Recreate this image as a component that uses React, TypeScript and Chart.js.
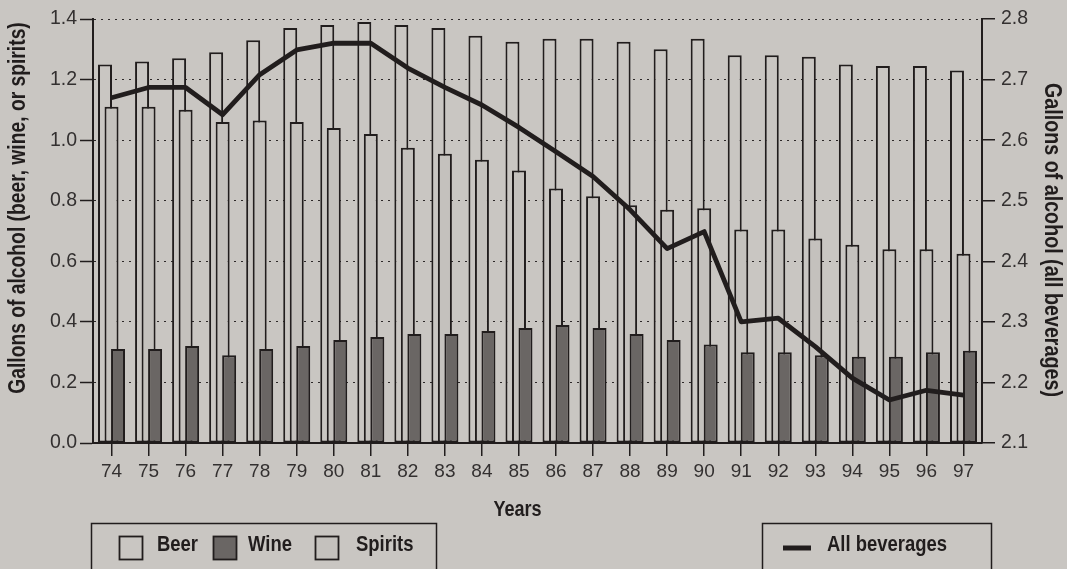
import React, { useEffect, useRef } from 'react';
import { Chart, registerables } from 'chart.js';

Chart.register(...registerables);

// ---- data ----
const years = ['74', '75', '76', '77', '78', '79', '80', '81', '82', '83', '84', '85', '86', '87', '88', '89', '90', '91', '92', '93', '94', '95', '96', '97'];
const beer = [1.25, 1.26, 1.27, 1.29, 1.33, 1.37, 1.38, 1.39, 1.38, 1.37, 1.345, 1.325, 1.335, 1.335, 1.325, 1.30, 1.335, 1.28, 1.28, 1.275, 1.25, 1.245, 1.245, 1.23];
const wine = [0.31, 0.31, 0.32, 0.29, 0.31, 0.32, 0.34, 0.35, 0.36, 0.36, 0.37, 0.38, 0.39, 0.38, 0.36, 0.34, 0.325, 0.30, 0.30, 0.29, 0.285, 0.285, 0.30, 0.305];
const spirits = [1.11, 1.11, 1.10, 1.06, 1.065, 1.06, 1.04, 1.02, 0.975, 0.955, 0.935, 0.90, 0.84, 0.815, 0.785, 0.77, 0.775, 0.705, 0.705, 0.675, 0.655, 0.64, 0.64, 0.625];
const allBeverages = [2.67, 2.687, 2.687, 2.642, 2.708, 2.749, 2.76, 2.76, 2.719, 2.687, 2.658, 2.621, 2.581, 2.54, 2.485, 2.421, 2.449, 2.30, 2.306, 2.259, 2.207, 2.171, 2.187, 2.179];
const leftTicks = { min: 0, max: 1.4, step: 0.2 };
const rightTicks = { min: 2.1, max: 2.8, step: 0.1 };

const leftTitle = 'Gallons of alcohol (beer, wine, or spirits)';
const rightTitle = 'Gallons of alcohol (all beverages)';
const xTitle = 'Years';

const BG = '#c9c6c2';
const INK = '#211d1d';
const TICK_INK = '#333030';
const WINE = '#6a6664';
const SPIRITS = '#c4c1bd';
const REG_FONT = '"Liberation Sans", Arial, "Helvetica Neue", sans-serif';

function hasFont(name: string): boolean {
  const c = document.createElement('canvas').getContext('2d');
  if (!c) return false;
  const s = 'Gallons of alcohol (beer, wine)';
  c.font = '20px monospace';
  const a = c.measureText(s).width;
  c.font = `20px "${name}", monospace`;
  const b = c.measureText(s).width;
  return Math.abs(a - b) > 0.5;
}

export default function App() {
  const ref = useRef<HTMLCanvasElement>(null);

  useEffect(() => {
    const canvas = ref.current;
    if (!canvas) return;
    const narrow = hasFont('Liberation Sans Narrow');

    const boldText = (ctx: CanvasRenderingContext2D, text: string, x: number, y: number, size: number, rot: number, align: CanvasTextAlign) => {
      ctx.save();
      ctx.translate(x, y);
      ctx.rotate(rot);
      if (narrow) {
        ctx.font = `bold ${size}px "Liberation Sans Narrow", sans-serif`;
      } else {
        ctx.font = `bold ${size}px ${REG_FONT}`;
        ctx.scale(0.82, 1);
      }
      ctx.textAlign = align;
      ctx.textBaseline = 'middle';
      ctx.fillStyle = INK;
      ctx.fillText(text, 0, 0);
      ctx.restore();
    };

    const bgPlugin = {
      id: 'bg',
      beforeDraw(chart: any) {
        const ctx = chart.ctx;
        ctx.save();
        ctx.fillStyle = BG;
        ctx.fillRect(0, 0, chart.width, chart.height);
        ctx.restore();
      },
    };

    // draw bars left-to-right (beer behind, wine in front), line on top
    const orderPlugin = {
      id: 'drawOrder',
      beforeDatasetsDraw(chart: any) {
        const metas = chart.getSortedVisibleDatasetMetas();
        const bars = metas.filter((m: any) => m.type === 'bar');
        const lines = metas.filter((m: any) => m.type !== 'bar');
        [...bars, ...lines].forEach((m: any) => m.controller.draw());
        return false;
      },
    };

    const decoPlugin = {
      id: 'deco',
      afterDraw(chart: any) {
        const ctx: CanvasRenderingContext2D = chart.ctx;
        const area = chart.chartArea;
        boldText(ctx, leftTitle, 19, 208, 23.5, -Math.PI / 2, 'center');
        boldText(ctx, rightTitle, 1052, 240, 24, Math.PI / 2, 'center');
        boldText(ctx, xTitle, (area.left + area.right) / 2 - 20, 510, 22, 0, 'center');

        // legend boxes
        ctx.save();
        ctx.strokeStyle = INK;
        ctx.lineWidth = 1.5;
        ctx.strokeRect(91.5, 523.5, 345, 60);
        ctx.strokeRect(762.5, 523.5, 229, 60);

        const swatch = (x: number, fill: string) => {
          ctx.fillStyle = fill;
          ctx.fillRect(x, 536, 24, 24);
          ctx.strokeStyle = INK;
          ctx.lineWidth = 1.8;
          ctx.strokeRect(x + 0.5, 536.5, 23, 23);
        };
        swatch(119, BG);
        swatch(213, WINE);
        swatch(315, SPIRITS);
        ctx.restore();
        boldText(ctx, 'Beer', 157, 545, 22.5, 0, 'left');
        boldText(ctx, 'Wine', 248, 545, 22.5, 0, 'left');
        boldText(ctx, 'Spirits', 356, 545, 22.5, 0, 'left');

        ctx.save();
        ctx.strokeStyle = INK;
        ctx.lineWidth = 5;
        ctx.beginPath();
        ctx.moveTo(783, 548);
        ctx.lineTo(811, 548);
        ctx.stroke();
        ctx.restore();
        boldText(ctx, 'All beverages', 827, 545, 22.5, 0, 'left');
      },
    };

    const barCommon = {
      type: 'bar' as const,
      yAxisID: 'y',
      borderColor: INK,
      borderWidth: 2,
      borderSkipped: false,
      barPercentage: 2.15,
      categoryPercentage: 0.527,
    };

    const chart = new Chart(canvas, {
      type: 'bar',
      data: {
        labels: years,
        datasets: [
          {
            type: 'line',
            label: 'All beverages',
            data: allBeverages,
            yAxisID: 'y2',
            borderColor: INK,
            borderWidth: 4.8,
            pointRadius: 0,
            tension: 0,
            borderJoinStyle: 'round',
            borderCapStyle: 'butt',
            order: 0,
          } as any,
          { ...barCommon, label: 'Beer', data: beer, backgroundColor: BG, order: 1 } as any,
          { ...barCommon, label: 'Spirits', data: spirits, backgroundColor: SPIRITS, order: 2 } as any,
          { ...barCommon, label: 'Wine', data: wine, backgroundColor: WINE, order: 3 } as any,
        ],
      },
      options: {
        responsive: false,
        animation: false,
        devicePixelRatio: 1,
        layout: { padding: { top: 19, left: 0, right: 0, bottom: 0 } },
        plugins: { legend: { display: false }, tooltip: { enabled: false }, title: { display: false } },
        scales: {
          x: {
            type: 'category',
            offset: true,
            grid: { display: true, drawOnChartArea: false, drawTicks: true, tickLength: 13, color: INK, lineWidth: 1.5, offset: false },
            border: { display: true, color: INK, width: 2 },
            ticks: { color: TICK_INK, font: { family: REG_FONT, size: 19 }, padding: 4, maxRotation: 0, autoSkip: false },
            afterFit: (s: any) => { s.height = 126; },
          },
          y: {
            position: 'left',
            min: leftTicks.min,
            max: leftTicks.max,
            ticks: {
              stepSize: leftTicks.step,
              color: TICK_INK,
              font: { family: REG_FONT, size: 19.5 },
              padding: 3,
              callback: (v: any) => Number(v).toFixed(1),
            },
            grid: { color: '#2c2828', lineWidth: 1, tickLength: 13, tickColor: INK, tickWidth: 1.5, tickBorderDash: [] },
            border: { display: true, color: INK, width: 2, dash: [2, 5] },
            afterFit: (s: any) => { s.width = 93; },
          },
          y2: {
            position: 'right',
            min: rightTicks.min,
            max: rightTicks.max,
            ticks: {
              stepSize: rightTicks.step,
              color: TICK_INK,
              font: { family: REG_FONT, size: 19.5 },
              padding: 6,
              callback: (v: any) => Number(v).toFixed(1),
            },
            grid: { drawOnChartArea: false, tickLength: 13, color: INK, lineWidth: 1.5 },
            border: { display: true, color: INK, width: 2 },
            afterFit: (s: any) => { s.width = 85; },
          },
        },
      } as any,
      plugins: [bgPlugin, orderPlugin, decoPlugin],
    });

    return () => chart.destroy();
  }, []);

  return (
    <div style={{ position: 'fixed', left: 0, top: 0, width: 1067, height: 569, background: BG }}>
      <canvas ref={ref} width={1067} height={569} style={{ display: 'block' }} />
    </div>
  );
}
